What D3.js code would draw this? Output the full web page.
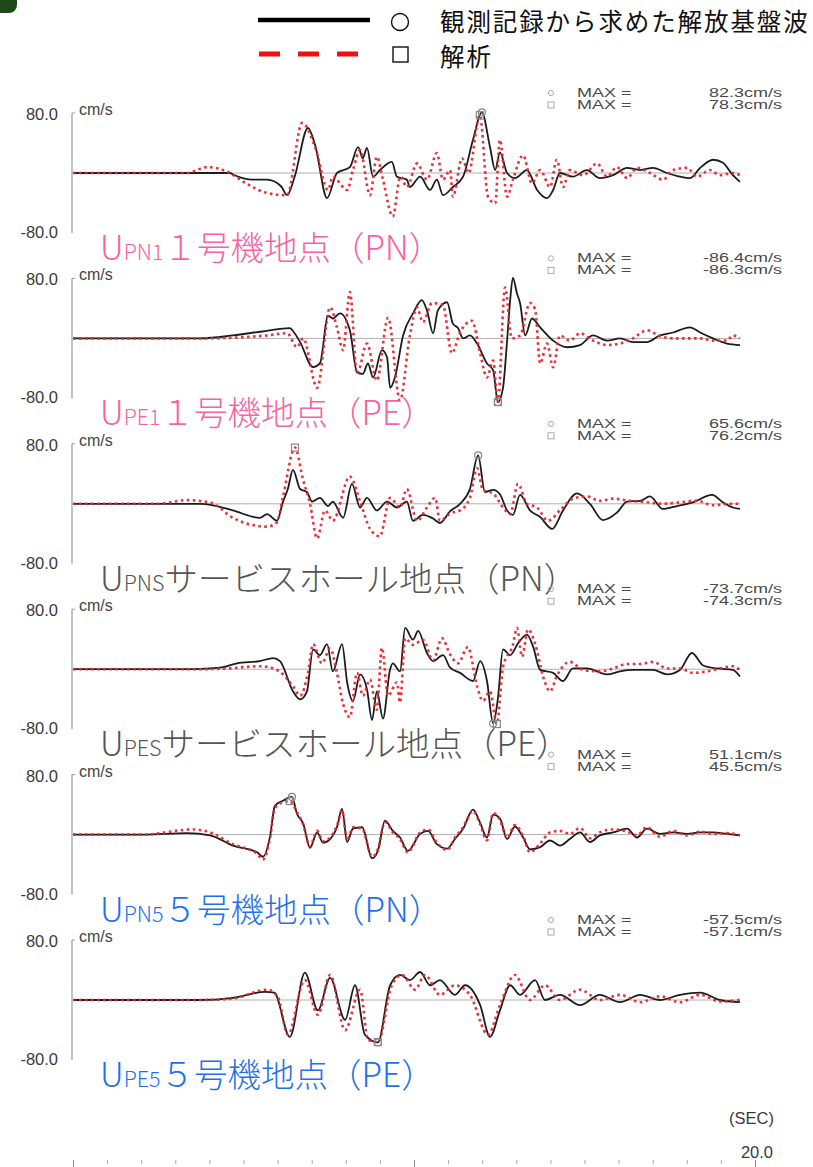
<!DOCTYPE html>
<html><head><meta charset="utf-8">
<script src="https://cdn.jsdelivr.net/npm/d3@7"></script>
<style>body{margin:0;background:#fff}svg{display:block}</style>
</head><body>
<svg id="c" width="813" height="1167"></svg>
<script>
// ---- data: [time (s), velocity (cm/s)] ----
const pn1Obs = [[0,0],[4.6,0],[4.69,-2],[5.28,-9],[5.69,-9],[6.1,-18],[6.28,-30],[6.5,-5],[6.89,61],[7.1,38],[7.45,-34],[7.74,0],[8.12,8],[8.36,35],[8.5,20],[8.62,34],[8.8,-5],[9.0,4],[9.35,15],[9.5,-5],[9.79,-9],[9.88,-19],[10.18,-5],[10.47,-23],[10.67,-9],[10.85,-30],[11.14,-19],[11.44,-5],[11.73,45],[11.99,82.3],[12.23,35],[12.38,4],[12.52,28],[12.73,0],[12.96,-7],[13.31,4],[13.61,-23],[13.9,-34],[14.08,-23],[14.28,0],[14.66,-5],[15.07,4],[15.45,-7],[15.84,-3],[16.25,7],[16.63,4],[17.01,7],[17.42,0],[17.8,-5],[18.09,-7],[18.39,7],[18.77,18],[19.06,14],[19.35,-3],[19.56,-12]];
const pn1Sim = [[0,0],[3.34,0],[3.93,8],[4.6,0],[5.0,-12],[5.69,-27],[6.28,-30],[6.72,68],[7.1,35],[7.48,-23],[7.62,-5],[8.04,-23],[8.21,4],[8.42,31],[8.71,-30],[8.91,22],[9.09,-9],[9.38,-59],[9.6,-5],[9.79,-19],[10.09,13],[10.38,-9],[10.67,27],[10.85,-9],[11.06,4],[11.14,-32],[11.41,20],[11.6,0],[11.93,78.3],[12.17,-32],[12.38,-41],[12.52,45],[12.73,-32],[12.9,-9],[13.2,24],[13.46,-14],[13.7,4],[13.99,-19],[14.19,18],[14.37,-19],[14.57,4],[14.96,-3],[15.37,13],[15.66,-5],[15.95,8],[16.25,-7],[16.54,7],[16.92,0],[17.3,-9],[17.6,4],[18.01,7],[18.3,-5],[18.68,4],[18.97,-3],[19.35,0],[19.56,-3]];

const pe1Obs = [[0,0],[3.72,0],[4.69,4],[5.63,10],[6.36,14],[6.45,10],[6.66,-5],[7.04,-39],[7.24,-34],[7.48,31],[7.62,27],[7.83,34],[8.12,11],[8.33,-46],[8.5,-48],[8.65,-34],[8.8,-53],[9.06,-16],[9.21,-26],[9.3,-67],[9.44,-53],[9.68,4],[9.97,34],[10.23,52],[10.38,38],[10.56,7],[10.7,38],[10.97,49],[11.14,20],[11.29,14],[11.44,0],[11.64,4],[11.85,-7],[12.14,-34],[12.32,-43],[12.46,-86.4],[12.61,-67],[12.73,-3],[12.82,52],[12.9,82],[13.02,61],[13.11,48],[13.26,4],[13.46,27],[13.7,15],[14.08,-3],[14.49,-12],[14.87,-9],[15.25,4],[15.66,-3],[16.04,0],[16.42,-5],[16.83,-5],[17.21,4],[17.6,8],[18.09,15],[18.39,8],[18.77,0],[19.18,-7],[19.56,-9]];
const pe1Sim = [[0,0],[3.72,0],[5.69,4],[6.28,7],[6.57,-12],[6.75,0],[7.16,-67],[7.54,42],[7.74,15],[7.92,-16],[8.12,63],[8.33,-48],[8.62,-7],[8.91,-57],[9.24,28],[9.59,-84],[9.88,4],[10.09,42],[10.26,22],[10.53,48],[10.85,45],[11.11,-20],[11.35,8],[11.7,24],[11.94,-20],[12.14,-53],[12.32,-30],[12.46,-86.3],[12.67,69],[12.87,0],[13.11,4],[13.4,48],[13.55,40],[13.7,-34],[13.9,-7],[14.08,-39],[14.28,4],[14.57,-3],[14.87,7],[15.25,-3],[15.66,-9],[16.04,-7],[16.42,0],[16.83,11],[17.21,3],[17.6,0],[18.01,0],[18.39,0],[18.77,-3],[19.18,-3],[19.35,4],[19.56,0]];

const pnsObs = [[0,0],[3.72,0],[4.11,-2],[4.69,-9],[5.48,-19],[5.69,-14],[5.98,-23],[6.16,3],[6.3,20],[6.45,46],[6.66,20],[6.86,16],[7.01,3],[7.24,8],[7.48,-3],[7.62,3],[7.92,-19],[8.18,27],[8.42,-5],[8.62,8],[8.91,-9],[9.21,3],[9.5,-5],[9.79,3],[9.97,-23],[10.26,-15],[10.56,-20],[10.76,-26],[11.06,-10],[11.35,0],[11.64,20],[11.88,65.6],[12.08,16],[12.32,19],[12.52,13],[12.73,-9],[12.9,-15],[13.11,12],[13.4,-9],[13.7,-18],[14.05,-34],[14.37,-9],[14.78,14],[15.16,0],[15.54,-22],[15.95,-12],[16.25,3],[16.63,4],[16.92,10],[17.3,-7],[17.71,-3],[18.18,2],[18.74,12],[19.06,2],[19.35,-5],[19.56,-7]];
const pnsSim = [[0,0],[2.46,0],[3.34,5],[4.02,2],[4.69,-19],[5.69,-31],[5.98,-25],[6.16,10],[6.51,76.2],[6.75,32],[6.95,0],[7.16,-47],[7.39,-9],[7.62,-23],[8.12,37],[8.42,3],[8.71,-34],[9.0,-44],[9.3,8],[9.59,-5],[9.79,20],[10.09,-23],[10.38,-5],[10.62,8],[10.76,-23],[11.06,-13],[11.35,-9],[11.64,8],[11.85,48],[12.02,19],[12.32,14],[12.61,-5],[12.82,-14],[13.05,27],[13.31,0],[13.61,-5],[13.93,-23],[14.28,-9],[14.66,7],[15.07,10],[15.45,4],[15.84,7],[16.33,4],[16.83,2],[17.3,0],[17.8,2],[18.3,4],[18.77,-2],[19.27,0],[19.56,0]];

const pesObs = [[0,0],[3.52,0],[4.31,2],[4.81,8],[5.48,11],[5.87,15],[6.07,11],[6.45,-30],[6.66,-41],[6.86,-30],[7.04,27],[7.24,19],[7.45,34],[7.62,-3],[7.89,34],[8.04,-18],[8.21,-43],[8.42,-7],[8.62,-27],[8.77,-69],[8.91,-30],[9.09,-67],[9.3,0],[9.38,8],[9.59,-3],[9.74,56],[9.97,40],[10.12,52],[10.38,22],[10.56,11],[10.85,19],[11.06,2],[11.35,-5],[11.73,-16],[11.94,11],[12.14,-16],[12.32,-73.7],[12.46,-40],[12.61,27],[12.82,19],[13.05,35],[13.31,47],[13.49,31],[13.7,-1],[14.08,-5],[14.37,-16],[14.66,1],[15.07,1],[15.66,-7],[16.04,-3],[16.42,-1],[17.01,-1],[17.42,-7],[17.8,-1],[18.15,22],[18.48,5],[18.89,1],[19.35,-1],[19.56,-10]];
const pesSim = [[0,0],[3.72,0],[4.52,1],[5.48,4],[5.98,-1],[6.45,-23],[6.66,-36],[6.89,-5],[7.04,34],[7.3,8],[7.54,28],[7.74,-5],[7.92,-47],[8.12,-65],[8.33,-5],[8.5,-36],[8.71,-14],[8.91,-55],[9.06,29],[9.24,-36],[9.5,-18],[9.59,-45],[9.74,42],[9.97,33],[10.26,40],[10.56,12],[10.82,42],[11.06,20],[11.29,8],[11.58,30],[11.85,-23],[12.02,-43],[12.23,-30],[12.43,-74.3],[12.61,3],[12.9,33],[13.02,56],[13.17,17],[13.34,54],[13.55,35],[13.78,-9],[13.99,-30],[14.19,-9],[14.57,10],[14.96,-1],[15.45,-3],[15.84,1],[16.25,7],[16.63,7],[17.01,10],[17.42,1],[17.8,1],[18.18,-5],[18.59,-3],[18.97,1],[19.35,4],[19.56,-1]];

const pn5Obs = [[0,0],[2.05,0],[3.34,2],[4.02,-1],[4.69,-15],[5.4,-24],[5.57,-30],[5.78,-2],[5.92,39],[6.16,46],[6.42,51.1],[6.57,28],[6.75,15],[6.95,-18],[7.16,3],[7.33,-11],[7.54,-6],[7.74,10],[7.89,35],[8.04,-10],[8.21,8],[8.48,10],[8.77,-32],[8.94,-22],[9.15,19],[9.38,5],[9.59,-4],[9.82,-22],[10.18,1],[10.41,5],[10.67,-13],[10.97,-19],[11.2,-6],[11.44,8],[11.73,34],[11.94,16],[12.14,-4],[12.32,27],[12.52,22],[12.73,-6],[12.96,11],[13.2,-4],[13.4,-20],[13.7,-17],[13.99,-8],[14.28,-15],[14.57,-6],[14.87,3],[15.16,-10],[15.45,-1],[15.84,3],[16.25,8],[16.54,-4],[16.83,8],[17.21,1],[17.6,3],[18.01,1],[18.39,3],[18.77,3],[19.18,1],[19.56,-1]];
const pn5Sim = [[0,0],[2.05,0],[3.52,7],[4.02,3],[4.69,-13],[5.4,-26],[5.57,-34],[5.78,-4],[5.92,36],[6.16,44],[6.36,45.5],[6.57,30],[6.75,14],[6.95,-16],[7.16,5],[7.33,-9],[7.54,-4],[7.74,12],[7.89,33],[8.04,-8],[8.21,10],[8.48,8],[8.77,-30],[8.94,-20],[9.15,17],[9.38,3],[9.59,-6],[9.82,-24],[10.18,3],[10.41,7],[10.67,-11],[10.97,-21],[11.2,-4],[11.44,10],[11.73,32],[11.94,14],[12.14,-8],[12.32,29],[12.52,20],[12.73,-4],[12.96,13],[13.2,-2],[13.4,-24],[13.7,-12],[13.99,3],[14.28,5],[14.57,1],[14.87,9],[15.16,-5],[15.45,3],[15.84,7],[16.25,4],[16.54,-1],[16.83,10],[17.21,-3],[17.6,5],[18.01,-1],[18.39,4],[18.77,1],[19.18,2],[19.56,-1]];

const pe5Obs = [[0,0],[3.72,0],[4.69,3],[5.63,11],[5.9,10],[6.36,-50],[6.8,37],[7.18,-14],[7.54,30],[7.98,-27],[8.27,20],[8.56,-47],[8.94,-57.5],[9.3,20],[9.59,34],[9.88,27],[10.18,38],[10.47,20],[10.76,27],[11.2,7],[11.5,20],[11.94,-7],[12.23,-50],[12.52,-14],[12.82,20],[13.11,7],[13.55,27],[13.84,0],[14.28,7],[14.87,-7],[15.45,7],[16.04,-3],[16.63,7],[17.21,0],[17.8,7],[18.39,10],[18.97,0],[19.56,-3]];
const pe5Sim = [[0,0],[3.72,0],[4.69,2],[5.69,14],[6.0,5],[6.3,-47],[6.8,27],[7.18,-20],[7.54,34],[7.98,-41],[8.42,14],[8.65,-54],[8.94,-57.1],[9.35,20],[9.65,34],[10.03,14],[10.32,34],[10.76,7],[11.2,20],[11.64,7],[12.17,-47],[12.52,-7],[12.96,34],[13.4,0],[13.84,20],[14.28,0],[14.87,14],[15.45,0],[16.04,7],[16.63,-3],[17.21,5],[17.8,-3],[18.39,7],[18.97,-2],[19.56,0]];

const obsSeries = [pn1Obs, pe1Obs, pnsObs, pesObs, pn5Obs, pe5Obs];
const simSeries = [pn1Sim, pe1Sim, pnsSim, pesSim, pn5Sim, pe5Sim];
const titleSubs = ["PN1", "PE1", "PNS", "PES", "PN5", "PE5"];
const titleRest = ["１号機地点（PN）", "１号機地点（PE）", "サービスホール地点（PN）", "サービスホール地点（PE）", "５号機地点（PN）", "５号機地点（PE）"];
const titleColors = ["#f7629f", "#f7629f", "#555555", "#555555", "#1e70ee", "#1e70ee"];
const maxObs = ["82.3", "-86.4", "65.6", "-73.7", "51.1", "-57.5"];
const maxSim = ["78.3", "-86.3", "76.2", "-74.3", "45.5", "-57.1"];
const yTickValues = [80, -80];
const timeDomain = [0, 20];
const legendLabels = ["観測記録から求めた解放基盤波", "解析"];

// ---- drawing ----
const svg = d3.select("#c");
const LAT = "'Liberation Sans', Arial, sans-serif";
const JP = "'Noto Sans CJK JP', sans-serif";

// corner badge
svg.append("path").attr("d", "M0,0 H17 V5 A8,8 0 0 1 9,13 H0 Z").attr("fill", "#1d4a17");

// legend
svg.append("line").attr("x1", 258).attr("x2", 370).attr("y1", 20).attr("y2", 20)
  .attr("stroke", "#000").attr("stroke-width", 4.5);
svg.append("line").attr("x1", 259).attr("x2", 360).attr("y1", 54).attr("y2", 54)
  .attr("stroke", "#ee1111").attr("stroke-width", 5).attr("stroke-dasharray", "21,18");
svg.append("circle").attr("cx", 400).attr("cy", 22).attr("r", 8.5).attr("fill", "none").attr("stroke", "#111").attr("stroke-width", 1.4);
svg.append("rect").attr("x", 393).attr("y", 47).attr("width", 15).attr("height", 15).attr("fill", "none").attr("stroke", "#111").attr("stroke-width", 1.4);
svg.append("text").attr("x", 440).attr("y", 31).attr("font-family", JP).attr("font-size", 24.5)
  .attr("letter-spacing", 1.9).attr("fill", "#111").text(legendLabels[0]);
svg.append("text").attr("x", 440).attr("y", 66).attr("font-family", JP).attr("font-size", 24.5)
  .attr("letter-spacing", 1.9).attr("fill", "#111").text(legendLabels[1]);

const x = d3.scaleLinear().domain(timeDomain).range([73, 755]);

obsSeries.forEach((obs, i) => {
  const zero = 173 + 165.4 * i;
  const y = d3.scaleLinear().domain([-80, 80]).range([zero + 59, zero - 59]);
  const g = svg.append("g");

  // y axis
  g.append("line").attr("x1", 72).attr("x2", 72).attr("y1", y(80) - 1).attr("y2", y(-80) + 1)
    .attr("stroke", "#9a9a9a").attr("stroke-width", 1.2);
  g.append("line").attr("x1", 72).attr("x2", 75).attr("y1", y(80) - 1).attr("y2", y(80) - 1)
    .attr("stroke", "#9a9a9a");
  g.selectAll(".yl").data(yTickValues).join("text")
    .attr("x", 58).attr("y", d => y(d) + 6).attr("text-anchor", "end")
    .attr("font-family", LAT).attr("font-size", 16.5).attr("fill", "#3a3a3a")
    .text(d => d.toFixed(1));
  g.append("text").attr("x", 79).attr("y", y(80) + 1).attr("font-family", LAT)
    .attr("font-size", 16).attr("fill", "#444").text("cm/s");

  // zero line
  g.append("line").attr("x1", 72).attr("x2", x(19.56)).attr("y1", y(0)).attr("y2", y(0))
    .attr("stroke", "#b0b0b0").attr("stroke-width", 1);

  const line = d3.line().x(d => x(d[0])).y(d => y(d[1])).curve(d3.curveMonotoneX);
  g.append("path").attr("d", line(obs)).attr("fill", "none").attr("stroke", "#1c1c1c")
    .attr("stroke-width", 1.8).attr("stroke-linejoin", "round");
  g.append("path").attr("d", line(simSeries[i])).attr("fill", "none").attr("stroke", "#e8262e")
    .attr("stroke-width", 2.6).attr("stroke-dasharray", "2.6,3.4").attr("opacity", 0.95);

  // peak markers
  const pO = obs.reduce((a, b) => Math.abs(b[1]) > Math.abs(a[1]) ? b : a);
  const pS = simSeries[i].reduce((a, b) => Math.abs(b[1]) > Math.abs(a[1]) ? b : a);
  g.append("circle").attr("cx", x(pO[0])).attr("cy", y(pO[1])).attr("r", 3.5)
    .attr("fill", "none").attr("stroke", "#888").attr("stroke-width", 1.2);
  g.append("rect").attr("x", x(pS[0]) - 3.5).attr("y", y(pS[1]) - 3.5).attr("width", 7).attr("height", 7)
    .attr("fill", "none").attr("stroke", "#888").attr("stroke-width", 1.2);

  // MAX labels (vertically compressed, tightly stacked as in the source)
  const l1 = zero - 76, l2 = zero - 64;
  g.append("circle").attr("cx", 551).attr("cy", l1 - 4).attr("r", 2.6).attr("fill", "none").attr("stroke", "#aaa");
  g.append("rect").attr("x", 548).attr("y", l2 - 7).attr("width", 6).attr("height", 6).attr("fill", "none").attr("stroke", "#aaa");
  [[l1, maxObs[i]], [l2, maxSim[i]]].forEach(([yy, v]) => {
    const row = g.append("g").attr("transform", `translate(0,${yy}) scale(1,0.7)`);
    row.append("text").attr("x", 577).attr("y", 0).attr("font-family", LAT).attr("font-size", 18)
      .attr("fill", "#4a4a4a").text("MAX =");
    row.append("text").attr("x", 782).attr("y", 0).attr("text-anchor", "end").attr("font-family", LAT)
      .attr("font-size", 18).attr("fill", "#4a4a4a").text(v + "cm/s");
  });

  // title
  const t = g.append("text").attr("x", 100).attr("y", zero + 87).attr("font-family", JP)
    .attr("fill", titleColors[i]).attr("font-weight", 300);
  t.append("tspan").attr("font-size", 33.5).text("U");
  t.append("tspan").attr("font-size", 21.5).text(titleSubs[i]);
  t.append("tspan").attr("font-size", 33.5).text(titleRest[i]);
});

// bottom time axis
svg.append("text").attr("x", 774).attr("y", 1124).attr("text-anchor", "end").attr("font-family", LAT)
  .attr("font-size", 16.5).attr("fill", "#3a3a3a").text("(SEC)");
svg.append("text").attr("x", 773).attr("y", 1158).attr("text-anchor", "end").attr("font-family", LAT)
  .attr("font-size", 16.5).attr("fill", "#3a3a3a").text("20.0");
const ax = svg.append("g").attr("transform", "translate(0,1160)")
  .call(d3.axisBottom(x).tickValues(d3.range(0, 21, 1)).tickSize(4).tickFormat(""));
ax.select(".domain").remove();
ax.selectAll("line").attr("stroke", "#aaa");
ax.selectAll(".tick").filter(d => d % 10 === 0).select("line").attr("y2", 9).attr("stroke", "#888");
</script>
</body></html>
